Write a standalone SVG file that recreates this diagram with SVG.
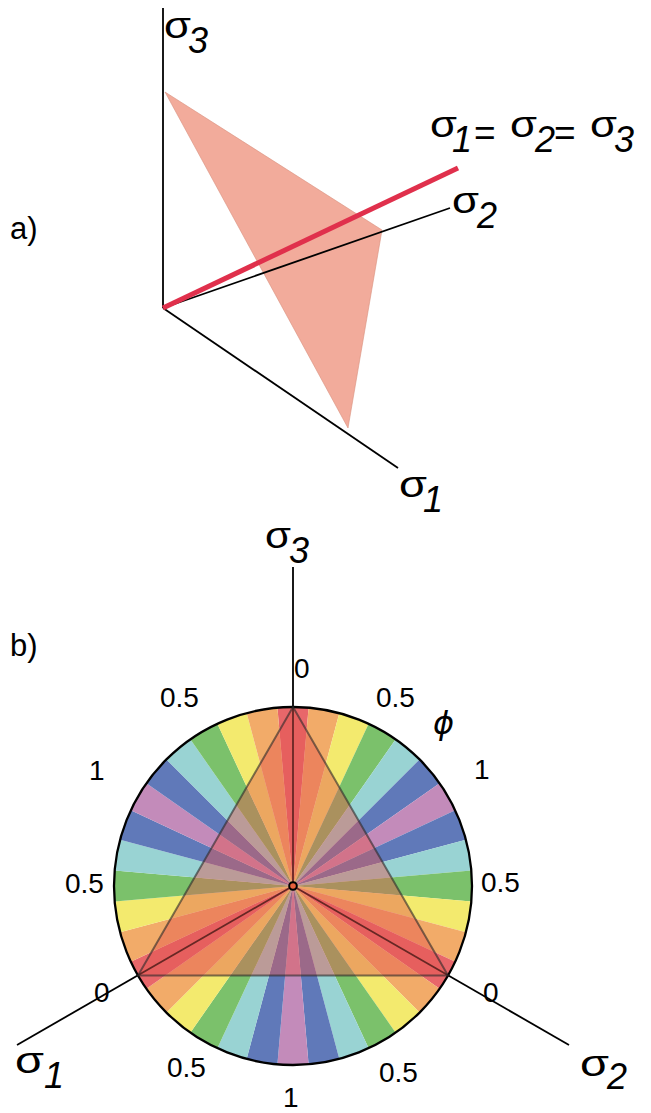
<svg xmlns="http://www.w3.org/2000/svg" width="651" height="1113" viewBox="0 0 651 1113">
<style>
text{font-family:"Liberation Sans",Arial,sans-serif;fill:#000}
.sig{font-size:37px}
.eq{font-size:37px}
.sub{font-size:36px;font-style:italic}
.num{font-size:28px}
.lab{font-size:31px}
.ax{stroke:#000;stroke-width:1.8;fill:none}
.r{fill:#e8676a}.o{fill:#f2ab69}.y{fill:#f3ea6e}.g{fill:#7bc16b}.c{fill:#99d3d3}.b{fill:#6079b9}.m{fill:#c38bba}
</style>
<rect width="651" height="1113" fill="#fff"/>

<g id="panel-a">
  <text class="lab" x="10" y="239">a)</text>
  <polygon id="plane" points="165,92 382,230 348,428" fill="#f2ab9b" stroke="#d8907e" stroke-width="0.6"/>
  <g id="axes-a">
    <line class="ax" x1="163" y1="8" x2="163" y2="308"/>
    <line class="ax" x1="163" y1="308" x2="450" y2="208"/>
    <line class="ax" x1="163" y1="308" x2="398" y2="468"/>
  </g>
  <line id="hydrostatic" x1="163" y1="308" x2="458" y2="168" stroke="#e0304c" stroke-width="5"/>
  <text class="sig" x="164" y="38" textLength="27" lengthAdjust="spacingAndGlyphs">σ</text><text class="sub" x="188" y="53">3</text>
  <text class="sig" x="452" y="213" textLength="27" lengthAdjust="spacingAndGlyphs">σ</text><text class="sub" x="477" y="228">2</text>
  <text class="sig" x="399" y="497" textLength="28" lengthAdjust="spacingAndGlyphs">σ</text><text class="sub" x="423" y="512">1</text>
  <g id="eq-label">
    <text class="sig" x="430" y="137" textLength="27" lengthAdjust="spacingAndGlyphs">σ</text><text class="sub" x="452" y="152">1</text>
    <text class="eq" x="474" y="145">=</text>
    <text class="sig" x="510" y="137" textLength="27" lengthAdjust="spacingAndGlyphs">σ</text><text class="sub" x="535" y="152">2</text>
    <text class="eq" x="554" y="145">=</text>
    <text class="sig" x="590" y="137" textLength="27" lengthAdjust="spacingAndGlyphs">σ</text><text class="sub" x="614" y="152">3</text>
  </g>
</g>

<g id="panel-b">
  <text class="lab" x="10" y="656">b)</text>
  <g id="wheel">
    <path class="r" d="M293 886L277.40 707.68A179 179 0 0 1 308.60 707.68Z"/>
    <path class="o" d="M293 886L308.60 707.68A179 179 0 0 1 339.33 713.10Z"/>
    <path class="y" d="M293 886L339.33 713.10A179 179 0 0 1 368.65 723.77Z"/>
    <path class="g" d="M293 886L368.65 723.77A179 179 0 0 1 395.67 739.37Z"/>
    <path class="c" d="M293 886L395.67 739.37A179 179 0 0 1 419.57 759.43Z"/>
    <path class="b" d="M293 886L419.57 759.43A179 179 0 0 1 439.63 783.33Z"/>
    <path class="m" d="M293 886L439.63 783.33A179 179 0 0 1 455.23 810.35Z"/>
    <path class="b" d="M293 886L455.23 810.35A179 179 0 0 1 465.90 839.67Z"/>
    <path class="c" d="M293 886L465.90 839.67A179 179 0 0 1 471.32 870.40Z"/>
    <path class="g" d="M293 886L471.32 870.40A179 179 0 0 1 471.32 901.60Z"/>
    <path class="y" d="M293 886L471.32 901.60A179 179 0 0 1 465.90 932.33Z"/>
    <path class="o" d="M293 886L465.90 932.33A179 179 0 0 1 455.23 961.65Z"/>
    <path class="r" d="M293 886L455.23 961.65A179 179 0 0 1 439.63 988.67Z"/>
    <path class="o" d="M293 886L439.63 988.67A179 179 0 0 1 419.57 1012.57Z"/>
    <path class="y" d="M293 886L419.57 1012.57A179 179 0 0 1 395.67 1032.63Z"/>
    <path class="g" d="M293 886L395.67 1032.63A179 179 0 0 1 368.65 1048.23Z"/>
    <path class="c" d="M293 886L368.65 1048.23A179 179 0 0 1 339.33 1058.90Z"/>
    <path class="b" d="M293 886L339.33 1058.90A179 179 0 0 1 308.60 1064.32Z"/>
    <path class="m" d="M293 886L308.60 1064.32A179 179 0 0 1 277.40 1064.32Z"/>
    <path class="b" d="M293 886L277.40 1064.32A179 179 0 0 1 246.67 1058.90Z"/>
    <path class="c" d="M293 886L246.67 1058.90A179 179 0 0 1 217.35 1048.23Z"/>
    <path class="g" d="M293 886L217.35 1048.23A179 179 0 0 1 190.33 1032.63Z"/>
    <path class="y" d="M293 886L190.33 1032.63A179 179 0 0 1 166.43 1012.57Z"/>
    <path class="o" d="M293 886L166.43 1012.57A179 179 0 0 1 146.37 988.67Z"/>
    <path class="r" d="M293 886L146.37 988.67A179 179 0 0 1 130.77 961.65Z"/>
    <path class="o" d="M293 886L130.77 961.65A179 179 0 0 1 120.10 932.33Z"/>
    <path class="y" d="M293 886L120.10 932.33A179 179 0 0 1 114.68 901.60Z"/>
    <path class="g" d="M293 886L114.68 901.60A179 179 0 0 1 114.68 870.40Z"/>
    <path class="c" d="M293 886L114.68 870.40A179 179 0 0 1 120.10 839.67Z"/>
    <path class="b" d="M293 886L120.10 839.67A179 179 0 0 1 130.77 810.35Z"/>
    <path class="m" d="M293 886L130.77 810.35A179 179 0 0 1 146.37 783.33Z"/>
    <path class="b" d="M293 886L146.37 783.33A179 179 0 0 1 166.43 759.43Z"/>
    <path class="c" d="M293 886L166.43 759.43A179 179 0 0 1 190.33 739.37Z"/>
    <path class="g" d="M293 886L190.33 739.37A179 179 0 0 1 217.35 723.77Z"/>
    <path class="y" d="M293 886L217.35 723.77A179 179 0 0 1 246.67 713.10Z"/>
    <path class="o" d="M293 886L246.67 713.10A179 179 0 0 1 277.40 707.68Z"/>
    <circle cx="293" cy="886" r="179" fill="none" stroke="#000" stroke-width="2.3"/>
  </g>
  <g id="axes-b">
    <line class="ax" x1="293" y1="567" x2="293" y2="886"/>
    <line class="ax" x1="293" y1="886" x2="17" y2="1045"/>
    <line class="ax" x1="293" y1="886" x2="569" y2="1045"/>
  </g>
  <polygon id="overlay" points="293,707 448.02,975.5 137.98,975.5" fill="#e55750" fill-opacity="0.45" stroke="#2a2a2a" stroke-opacity="0.6" stroke-width="2"/>
  <circle id="origin" cx="293" cy="886" r="3.8" fill="#e8603c" stroke="#000" stroke-width="2"/>
  <text class="sig" x="265" y="548" textLength="26" lengthAdjust="spacingAndGlyphs">σ</text><text class="sub" x="289" y="563">3</text>
  <text class="sig" x="15" y="1073" textLength="29" lengthAdjust="spacingAndGlyphs">σ</text><text class="sub" x="44" y="1088">1</text>
  <text class="sig" x="580" y="1076" textLength="29" lengthAdjust="spacingAndGlyphs">σ</text><text class="sub" x="607" y="1089">2</text>
  <text x="433" y="734" style="font-family:'DejaVu Sans',sans-serif;font-size:32px;font-style:italic">ϕ</text>
  <g id="ticks">
    <text class="num" x="294" y="678">0</text>
    <text class="num" x="160" y="707">0.5</text>
    <text class="num" x="376" y="707">0.5</text>
    <text class="num" x="89" y="780">1</text>
    <text class="num" x="474" y="779">1</text>
    <text class="num" x="65" y="893">0.5</text>
    <text class="num" x="481" y="892">0.5</text>
    <text class="num" x="94" y="1002">0</text>
    <text class="num" x="483" y="1002">0</text>
    <text class="num" x="167" y="1077">0.5</text>
    <text class="num" x="379" y="1082">0.5</text>
    <text class="num" x="283" y="1107">1</text>
  </g>
</g>
</svg>
